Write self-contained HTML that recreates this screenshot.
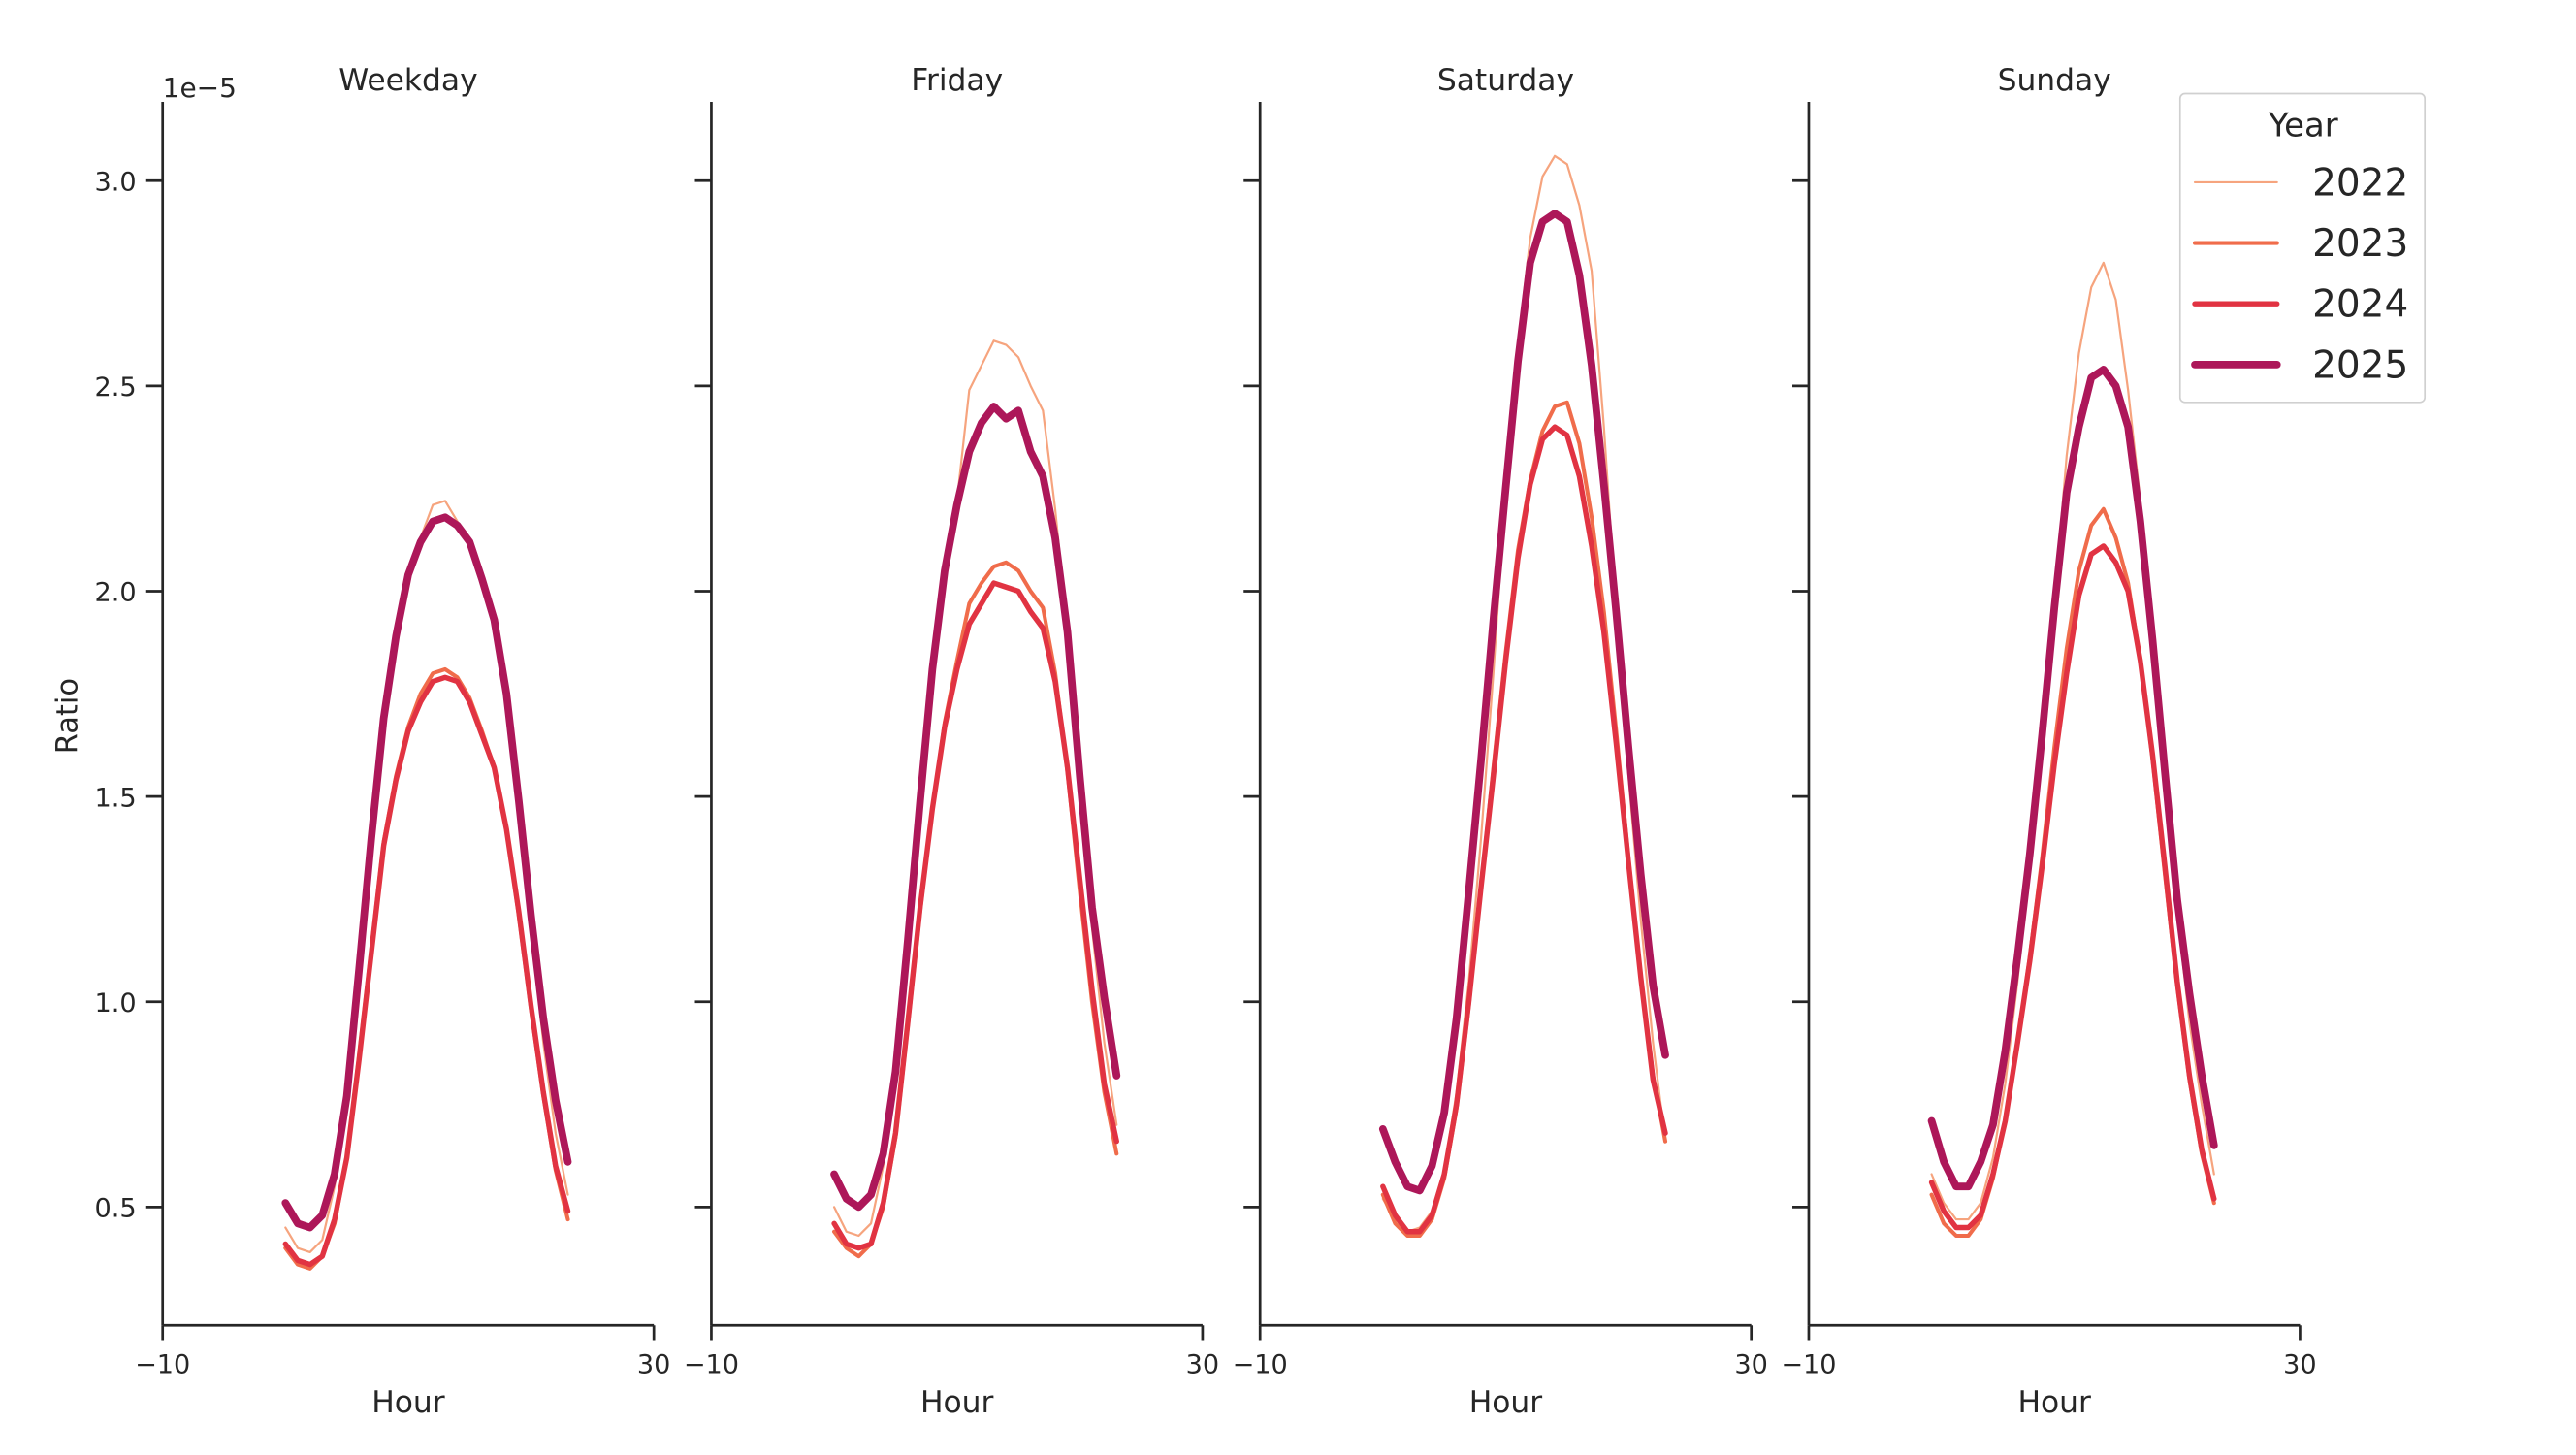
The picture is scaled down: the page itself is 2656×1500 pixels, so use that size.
<!DOCTYPE html>
<html><head><meta charset="utf-8"><style>
html,body{margin:0;padding:0;background:#fff;}
svg{display:block;}
text{font-family:"DejaVu Sans","Liberation Sans",sans-serif;fill:#262626;}
</style></head><body>
<svg id="s" width="2656" height="1500" viewBox="0 0 1568 886" preserveAspectRatio="none" xmlns="http://www.w3.org/2000/svg">
<text x="99" y="59" font-size="16.5">1e−5</text>
<text transform="translate(47,436) rotate(-90)" font-size="18" text-anchor="middle">Ratio</text>
<g id="g"></g>
<rect x="1327" y="57" width="149" height="188" rx="3" fill="#fff" stroke="#d0d0d0" stroke-width="1"/>
<text x="1402" y="83" font-size="20" text-anchor="middle">Year</text>
<line x1="1336" x2="1386" y1="111" y2="111" stroke="#f6a47e" stroke-width="1.3" stroke-linecap="round"/>
<line x1="1336" x2="1386" y1="148" y2="148" stroke="#f06c4b" stroke-width="2.4" stroke-linecap="round"/>
<line x1="1336" x2="1386" y1="185" y2="185" stroke="#e13342" stroke-width="3.2" stroke-linecap="round"/>
<line x1="1336" x2="1386" y1="222" y2="222" stroke="#ad1759" stroke-width="4.6" stroke-linecap="round"/>
<text x="1466" y="119" font-size="23" text-anchor="end">2022</text>
<text x="1466" y="156" font-size="23" text-anchor="end">2023</text>
<text x="1466" y="193" font-size="23" text-anchor="end">2024</text>
<text x="1466" y="230" font-size="23" text-anchor="end">2025</text>
</svg>
<script>
var D={
Weekday:{
y22:[0.45,0.40,0.39,0.42,0.55,0.77,1.08,1.40,1.69,1.89,2.04,2.13,2.21,2.22,2.17,2.12,2.03,1.93,1.75,1.47,1.18,0.90,0.68,0.53],
y23:[0.40,0.36,0.35,0.38,0.46,0.62,0.87,1.13,1.39,1.55,1.67,1.75,1.80,1.81,1.79,1.74,1.66,1.57,1.42,1.21,0.98,0.77,0.59,0.47],
y24:[0.41,0.37,0.36,0.38,0.47,0.62,0.86,1.12,1.38,1.54,1.66,1.73,1.78,1.79,1.78,1.73,1.65,1.57,1.42,1.22,0.99,0.78,0.60,0.49],
y25:[0.51,0.46,0.45,0.48,0.58,0.77,1.08,1.40,1.69,1.89,2.04,2.12,2.17,2.18,2.16,2.12,2.03,1.93,1.75,1.49,1.21,0.96,0.76,0.61]},
Friday:{
y22:[0.50,0.44,0.43,0.46,0.60,0.82,1.14,1.48,1.80,2.05,2.22,2.49,2.55,2.61,2.60,2.57,2.50,2.44,2.20,1.90,1.52,1.18,0.90,0.70],
y23:[0.44,0.40,0.38,0.41,0.50,0.67,0.94,1.22,1.47,1.68,1.83,1.97,2.02,2.06,2.07,2.05,2.00,1.96,1.80,1.56,1.27,1.00,0.78,0.63],
y24:[0.46,0.41,0.40,0.41,0.51,0.68,0.95,1.23,1.47,1.67,1.81,1.92,1.97,2.02,2.01,2.00,1.95,1.91,1.78,1.57,1.30,1.03,0.80,0.66],
y25:[0.58,0.52,0.50,0.53,0.63,0.83,1.15,1.49,1.81,2.05,2.21,2.34,2.41,2.45,2.42,2.44,2.34,2.28,2.13,1.90,1.55,1.23,1.01,0.82]},
Saturday:{
y22:[0.52,0.47,0.44,0.45,0.49,0.59,0.78,1.05,1.40,1.80,2.25,2.60,2.86,3.01,3.06,3.04,2.94,2.78,2.40,1.95,1.55,1.20,0.90,0.66],
y23:[0.53,0.46,0.43,0.43,0.47,0.57,0.74,0.99,1.28,1.57,1.85,2.10,2.27,2.39,2.45,2.46,2.36,2.18,1.95,1.66,1.35,1.06,0.82,0.66],
y24:[0.55,0.48,0.44,0.44,0.48,0.58,0.75,1.00,1.28,1.55,1.83,2.08,2.26,2.37,2.40,2.38,2.28,2.11,1.90,1.63,1.34,1.06,0.81,0.68],
y25:[0.69,0.61,0.55,0.54,0.60,0.73,0.96,1.27,1.59,1.93,2.25,2.56,2.80,2.90,2.92,2.90,2.77,2.55,2.26,1.95,1.62,1.31,1.04,0.87]},
Sunday:{
y22:[0.58,0.51,0.47,0.47,0.51,0.62,0.80,1.05,1.35,1.65,1.97,2.33,2.58,2.74,2.80,2.71,2.49,2.22,1.90,1.55,1.22,0.95,0.75,0.58],
y23:[0.53,0.46,0.43,0.43,0.47,0.57,0.71,0.90,1.11,1.35,1.62,1.86,2.05,2.16,2.20,2.13,2.02,1.83,1.59,1.31,1.04,0.81,0.63,0.51],
y24:[0.56,0.49,0.45,0.45,0.48,0.58,0.71,0.90,1.10,1.33,1.58,1.80,1.99,2.09,2.11,2.07,2.00,1.83,1.60,1.33,1.05,0.82,0.64,0.52],
y25:[0.71,0.61,0.55,0.55,0.61,0.70,0.88,1.11,1.36,1.65,1.96,2.24,2.40,2.52,2.54,2.50,2.40,2.17,1.88,1.56,1.25,1.02,0.82,0.65]}
};
var styles=[["y22","#f6a47e",1.3],["y23","#f06c4b",2.4],["y24","#e13342",3.2],["y25","#ad1759",4.6]];
var lefts=[99,433,767,1101],W=299,axTop=62,axBot=807;
function Y(v){return 860-v*250;}
var h="";
Object.keys(D).forEach(function(k,i){
 var L=lefts[i],X=function(t){return L+(t+10)/40*W;};
 h+='<line x1="'+L+'" x2="'+L+'" y1="'+axTop+'" y2="'+axBot+'" stroke="#262626" stroke-width="1.6"/>';
 h+='<line x1="'+L+'" x2="'+(L+W)+'" y1="'+axBot+'" y2="'+axBot+'" stroke="#262626" stroke-width="1.6"/>';
 [0.5,1,1.5,2,2.5,3].forEach(function(v){var y=Y(v);h+='<line x1="'+(L-10)+'" x2="'+L+'" y1="'+y+'" y2="'+y+'" stroke="#262626" stroke-width="1.6"/>';
  if(i==0)h+='<text x="'+(L-16)+'" y="'+(y+6)+'" font-size="16" text-anchor="end">'+v.toFixed(1)+'</text>';});
 [L,L+W].forEach(function(x,j){h+='<line x1="'+x+'" x2="'+x+'" y1="'+axBot+'" y2="'+(axBot+9)+'" stroke="#262626" stroke-width="1.6"/>';
  h+='<text x="'+x+'" y="'+(axBot+29)+'" font-size="16" text-anchor="middle">'+(j?'30':'−10')+'</text>';});
 h+='<text x="'+(L+W/2)+'" y="55" font-size="18.5" text-anchor="middle">'+k+'</text>';
 h+='<text x="'+(L+W/2)+'" y="860" font-size="18.5" text-anchor="middle">Hour</text>';
 styles.forEach(function(s){var d=D[k][s[0]].map(function(v,t){return (t?'L':'M')+X(t).toFixed(2)+' '+Y(v).toFixed(2);}).join(' ');
  h+='<path d="'+d+'" fill="none" stroke="'+s[1]+'" stroke-width="'+s[2]+'" stroke-linejoin="round" stroke-linecap="round"/>';});
});
document.getElementById("g").innerHTML=h;
</script>
</body></html>
